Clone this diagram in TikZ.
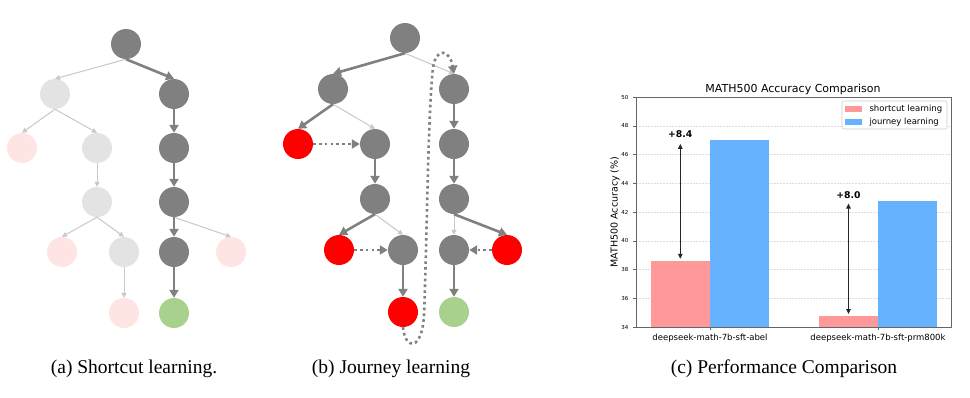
\documentclass[tikz,border=0pt]{standalone}
\usepackage{fontspec}
\setmainfont{Liberation Serif}
\newfontfamily\chartfont{DejaVu Sans}
\usetikzlibrary{arrows.meta}

\definecolor{nodegray}{HTML}{808080}
\definecolor{fadegray}{HTML}{E3E3E3}
\definecolor{fadepink}{HTML}{FFE4E4}
\definecolor{goalgreen}{HTML}{A9D18E}
\definecolor{edgelight}{HTML}{C8C8C8}
\definecolor{barred}{HTML}{FF9999}
\definecolor{barblue}{HTML}{66B2FF}

\newcommand\ttlfont{\chartfont\fontsize{11}{13}\selectfont}
\newcommand\labfont{\chartfont\fontsize{9.5}{11}\selectfont}
\newcommand\tckfont{\chartfont\fontsize{5.5}{7}\selectfont}
\newcommand\catfont{\chartfont\fontsize{8.5}{10}\selectfont}
\newcommand\gapfont{\chartfont\bfseries\fontsize{9.3}{11}\selectfont}

\tikzset{
  tnode/.style={circle,inner sep=0pt,minimum size=30pt},
  solidn/.style={tnode,fill=nodegray},
  fadedn/.style={tnode,fill=fadegray},
  wrongn/.style={tnode,fill=red},
  fadebad/.style={tnode,fill=fadepink},
  rightn/.style={tnode,fill=goalgreen},
  strong/.style={color=nodegray,line width=2.6pt,-{Triangle[length=8pt,width=9pt]}},
  weak/.style={color=edgelight,line width=1pt,-{Triangle[length=5pt,width=5pt]}},
  back/.style={color=nodegray,line width=2.6pt,dash pattern=on 2.6pt off 3.2pt,-{Triangle[length=8pt,width=9pt]}},
  caption/.style={font=\fontsize{19.5}{22}\selectfont}
}

\begin{document}
\begin{tikzpicture}[x=1pt,y=-1pt]
\useasboundingbox (0,0) rectangle (970,397);

% (a) shortcut tree
\node[solidn] (a0) at (126,44) {};
\node[fadedn] (a1) at (55,94) {};
\node[solidn] (b1) at (174,94) {};
\node[fadebad] (a2) at (22,148) {};
\node[fadedn] (a3) at (97,148) {};
\node[solidn] (b2) at (174,148) {};
\node[fadedn] (a4) at (97,202) {};
\node[solidn] (b3) at (174,202) {};
\node[fadebad] (a5) at (62,252) {};
\node[fadedn] (a6) at (124,252) {};
\node[solidn] (b4) at (174,252) {};
\node[fadebad] (b5) at (231,252) {};
\node[fadebad] (a7) at (124,313) {};
\node[rightn] (b6) at (174,313) {};
\path[weak] (a0.south) edge (a1.north) (a1.south) edge (a2.north) (a1.south) edge (a3.north)
  (a3.south) edge (a4.north) (a4.south) edge (a5.north) (a4.south) edge (a6.north)
  (a6.south) edge (a7.north) (b3.south) edge (b5.north);
\path[strong] (a0.south) edge (b1.north) (b1.south) edge (b2.north) (b2.south) edge (b3.north)
  (b3.south) edge (b4.north) (b4.south) edge (b6.north);

% (b) journey tree
\node[solidn] (j0) at (405,38) {};
\node[solidn] (l1) at (333,89) {};
\node[solidn] (r1) at (454,89) {};
\node[wrongn] (e1) at (298,144) {};
\node[solidn] (l2) at (375,144) {};
\node[solidn] (r2) at (454,144) {};
\node[solidn] (l3) at (375,199) {};
\node[solidn] (r3) at (454,199) {};
\node[wrongn] (e2) at (339,250) {};
\node[solidn] (l4) at (403,250) {};
\node[solidn] (r4) at (454,250) {};
\node[wrongn] (e3) at (507,250) {};
\node[wrongn] (e4) at (403,312) {};
\node[rightn] (r5) at (454,312) {};
\path[weak] (j0.south) edge (r1.north) (l1.south) edge (l2.north) (l3.south) edge (l4.north)
  (r3.south) edge (r4.north);
\path[strong] (j0.south) edge (l1.north) (l1.south) edge (e1.north) (l2.south) edge (l3.north)
  (l3.south) edge (e2.north) (l4.south) edge (e4.north) (r1.south) edge (r2.north)
  (r2.south) edge (r3.north) (r3.south) edge (e3.north) (r4.south) edge (r5.north);
\path[back] (e1) edge (l2) (e2) edge (l4) (e3) edge (r4);
\draw[back] (e4.south) .. controls (405,350) and (422,352) .. (424,315)
  .. controls (427,240) and (428,110) .. (433,68)
  .. controls (436,46) and (450,50) .. (r1.north);

% (c) bar chart
\node[font=\ttlfont] (title) at (793,89) {MATH500 Accuracy Comparison};
\node[font=\labfont,rotate=90] (ylab) at (615,212) {MATH500 Accuracy (\%)};
\begin{scope}[shift={(636,327)},x=1pt,y=14.36pt]
\foreach \v in {36,38,...,48}
  \draw[black!13,line width=0.5pt,dash pattern=on 2pt off 1pt] (0,\v-34) -- (315.7,\v-34);
\fill[barred] (14.7,0) rectangle (74,4.6);
\fill[barblue] (74,0) rectangle (132.7,13.0);
\fill[barred] (183,0) rectangle (242,0.8);
\fill[barblue] (242,0) rectangle (300.7,8.8);
\draw[black!60,line width=0.8pt] (0,0) rectangle (315.7,16);
\foreach \v in {34,36,...,50} {
  \draw[black!60,line width=0.6pt] (0,\v-34) -- (-3,\v-34);
  \node[font=\tckfont,anchor=east] at (-4,\v-34) {\v};
}
\foreach \c/\t in {74/deepseek-math-7b-sft-abel,242/deepseek-math-7b-sft-prm800k} {
  \draw[black!60,line width=0.6pt] (\c,0) -- ++(0,-3pt);
  \node[font=\catfont,anchor=north] at ([yshift=-3.5pt]\c,0) {\t};
}
\coordinate (s1) at (44.3,38.75-34);
\coordinate (t1) at (44.3,46.75-34);
\coordinate (s2) at (212.5,34.9-34);
\coordinate (t2) at (212.5,42.6-34);
\draw[black!85,line width=1.2pt,{Triangle[length=5pt,width=4.5pt]}-{Triangle[length=5pt,width=4.5pt]}] (s1) -- (t1);
\draw[black!85,line width=1.2pt,{Triangle[length=5pt,width=4.5pt]}-{Triangle[length=5pt,width=4.5pt]}] (s2) -- (t2);
\node[font=\gapfont] (g1) at (44.3,47.4-34) {+8.4};
\node[font=\gapfont] (g2) at (212.5,43.15-34) {+8.0};
\end{scope}
% legend
\draw[black!20,fill=white,rounded corners=2pt,line width=0.6pt] (842,101) rectangle (947,129);
\fill[barred] (845,106) rectangle (862,112);
\fill[barblue] (845,119) rectangle (862,125);
\node[font=\catfont,anchor=west] (k1) at (866,109) {shortcut learning};
\node[font=\catfont,anchor=west] (k2) at (866,122) {journey learning};

% captions
\node[caption] (capa) at (134,369) {(a) Shortcut learning.};
\node[caption] (capb) at (391,369) {(b) Journey learning};
\node[caption] (capc) at (784,369) {(c) Performance Comparison};
\end{tikzpicture}
\end{document}
